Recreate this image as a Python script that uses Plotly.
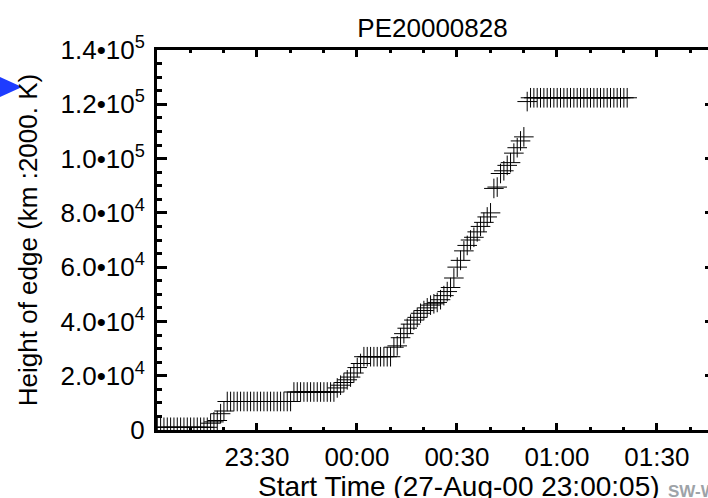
import pandas as pd
import plotly.graph_objects as go

# ---- data ----
start_time = "2000-08-27 23:00:05"
minutes = [0, 1, 2, 3, 4, 5, 6, 7, 8, 9, 10, 11, 12, 13, 14, 15,
           16, 17, 18, 19, 20,
           21, 22, 23, 24, 25, 26, 27, 28, 29, 30, 31, 32, 33, 34, 35, 36, 37, 38, 39, 40,
           41, 42, 43, 44, 45, 46, 47, 48, 49, 50, 51, 52, 53,
           54, 55, 56, 57, 58, 59, 60, 61,
           62, 63, 64, 65, 66, 67, 68, 69, 70,
           71, 72, 73, 74, 75, 76, 77, 78, 79, 80, 81, 82, 83, 84, 85,
           86, 87, 88, 89, 90, 91, 92, 93, 94, 95, 96, 97, 98, 99, 100,
           101, 102, 103, 104, 105, 106, 107, 108, 109, 110, 111,
           112, 113, 114, 115, 116, 117, 118, 119, 120, 121, 122, 123, 124, 125, 126,
           127, 128, 129, 130, 131, 132, 133, 134, 135, 136, 137, 138, 139, 140, 141]
heights = [1000, 1000, 1000, 1000, 1000, 1000, 1000, 1000, 1000, 1000, 1000, 1000, 1000, 1000, 1000, 1000,
           2500, 3000, 3500, 6000, 7000,
           10500, 10500, 10500, 10500, 10500, 10500, 10500, 10500, 10500, 10500, 10500, 10500, 10500,
           10500, 10500, 10500, 10500, 10500, 10500, 10500,
           14000, 14000, 14000, 14000, 14000, 14000, 14000, 14000, 14000, 14000, 14000, 14000, 14000,
           15500, 16500, 17500, 18500, 19500, 21000, 23000, 24500,
           27000, 27000, 27000, 27000, 27000, 27000, 27000, 27000, 27000,
           30500, 31000, 34000, 35500, 37500, 39000, 40500, 41500, 43000, 44000, 45000, 46000, 46500,
           47000, 48000,
           49500, 51000, 52500, 56000, 60000, 62500, 66000, 68000, 70000, 71000, 73000, 75000, 76500,
           78500, 80000,
           89000, 89500, 94500, 95500, 97500, 98500, 102000, 104000, 106500, 108000, 121000,
           122400, 122400, 122400, 122400, 122400, 122400, 122400, 122400, 122400, 122400, 122400,
           122400, 122400, 122400, 122400, 122400, 122400, 122400, 122400, 122400, 122400, 122400,
           122400, 122400, 122400, 122400, 122400, 122400, 122400, 122400]

x_tickvals = ["2000-08-27 23:30", "2000-08-28 00:00", "2000-08-28 00:30",
              "2000-08-28 01:00", "2000-08-28 01:30"]
x_ticktext = ["23:30", "00:00", "00:30", "01:00", "01:30"]
x_range = ["2000-08-27 23:00:00", "2000-08-28 01:45:20"]
x_title = "Start Time (27-Aug-00 23:00:05)"

y_tickvals = [0, 20000, 40000, 60000, 80000, 100000, 120000, 140000]
y_ticktext = ["0", "2.0\u202210<sup>4</sup>", "4.0\u202210<sup>4</sup>", "6.0\u202210<sup>4</sup>",
              "8.0\u202210<sup>4</sup>", "1.0\u202210<sup>5</sup>", "1.2\u202210<sup>5</sup>",
              "1.4\u202210<sup>5</sup>"]
y_title = "Height of edge (km :2000. K)"

times = pd.to_datetime(start_time) + pd.to_timedelta(minutes, unit="min")

FONT = "Liberation Sans, Arial, Helvetica, sans-serif"
W, H = 708, 498
L, T, B = 157, 50, 68
PW, PH = W - L, H - T - B


def px(x):
    return (x - L) / PW


def py(y):
    return (H - B - y) / PH


fig = go.Figure()
fig.add_trace(go.Scatter(
    x=times, y=heights, mode="markers",
    marker=dict(symbol="cross-thin", size=14, line=dict(color="black", width=1), color="black"),
    showlegend=False, hoverinfo="skip", cliponaxis=True,
))
# carrier trace for the right-hand tick stubs
fig.add_trace(go.Scatter(
    x=times, y=heights, mode="markers", yaxis="y2",
    marker=dict(opacity=0), showlegend=False, hoverinfo="skip",
))

fig.update_layout(
    template="none",
    width=W, height=H,
    margin=dict(l=L, r=0, t=T, b=B, pad=0),
    paper_bgcolor="white", plot_bgcolor="white",
    font=dict(family=FONT, color="black", size=26),
    title=dict(text="PE20000828", x=0.5, xref="paper", xanchor="center",
               y=1 - 28 / H, yref="container", yanchor="middle",
               font=dict(size=26, family=FONT, color="black")),
    xaxis=dict(
        type="date", range=x_range, automargin=False,
        tickmode="array", tickvals=x_tickvals, ticktext=x_ticktext,
        ticks="inside", ticklen=7, tickwidth=3, tickcolor="black",
        showline=True, linewidth=3, linecolor="black", mirror="ticks",
        showgrid=False, zeroline=False, ticklabelstandoff=2,
        tickfont=dict(size=26, family=FONT, color="black"),
        minor=dict(tick0="2000-08-27 23:00:00", dtick=600000, ticks="inside",
                   ticklen=3, tickwidth=3, tickcolor="black", showgrid=False),
    ),
    yaxis=dict(
        range=[0, 140000], automargin=False,
        tickmode="array", tickvals=y_tickvals, ticktext=y_ticktext,
        ticks="inside", ticklen=10, tickwidth=3, tickcolor="black",
        showline=True, linewidth=3, linecolor="black", mirror=False,
        showgrid=False, zeroline=False, ticklabelstandoff=4,
        tickfont=dict(size=26, family=FONT, color="black"),
        minor=dict(tick0=0, dtick=5000, ticks="inside", ticklen=5, tickwidth=3,
                   tickcolor="black", showgrid=False),
        title=dict(text=y_title, standoff=16,
                   font=dict(size=26, family=FONT, color="black")),
    ),
    yaxis2=dict(
        overlaying="y", side="right", range=[0, 140000], automargin=False,
        tickmode="array", tickvals=y_tickvals,
        ticks="inside", ticklen=3, tickwidth=3, tickcolor="black",
        showticklabels=False, showline=False, showgrid=False, zeroline=False,
    ),
    shapes=[dict(
        type="path", xref="paper", yref="paper",
        path=f"M {px(-2)},{py(76)} L {px(22)},{py(87)} L {px(-2)},{py(98)} Z",
        fillcolor="#1e3cff", line=dict(width=0),
    )],
    annotations=[
        dict(text=x_title, xref="paper", yref="paper",
             x=px(459), y=py(486), xanchor="center", yanchor="middle",
             showarrow=False, font=dict(size=28, family=FONT, color="black")),
        dict(text="<b>SW-WS</b>", xref="paper", yref="paper",
             x=px(666), y=py(491), xanchor="left", yanchor="middle",
             showarrow=False,
             font=dict(size=17, family="Liberation Sans Narrow, Liberation Sans, Arial",
                       color="#9ea3a8")),
    ],
)

fig.write_html("out.html", config={"displayModeBar": False, "staticPlot": True},
               post_script="document.body.style.margin='0px';")
